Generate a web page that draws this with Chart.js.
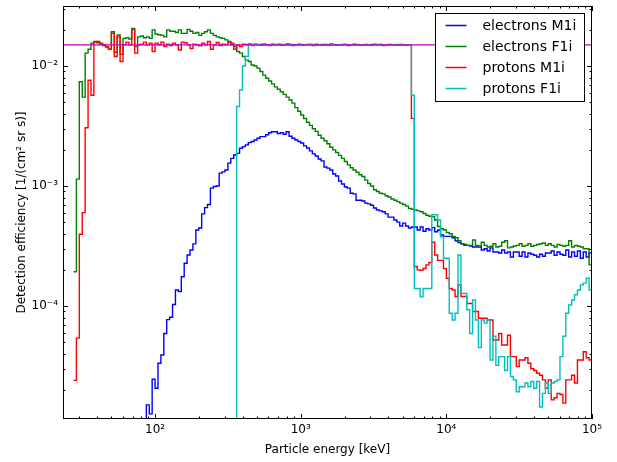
<!DOCTYPE html>
<html>
<head>
<meta charset="utf-8">
<script src="https://cdn.jsdelivr.net/npm/chart.js@4.4.1/dist/chart.umd.min.js"></script>
<style>
  html, body { margin: 0; padding: 0; background: #fff; }
  canvas { display: block; }
</style>
</head>
<body>
<canvas id="efficiencyChart" width="617" height="462"></canvas>
<script>
// energy bins: log spaced, 50 per decade, first bin starts at 10^(72/50) keV
var binsPerDecade = 50;
var firstBin = 72;
var binCount = 178;
var binEdges = [];
for (var i = 0; i <= binCount; i++) binEdges.push(Math.pow(10, (firstBin + i) / binsPerDecade));

// detection efficiency per bin, 1/(cm2 sr s); 0 = empty bin
var electronsM1i = [
  0, 0, 0, 0, 0, 0, 0, 0, 0, 0,
  0, 0, 0, 0, 0, 0, 0, 0, 0, 0,
  0, 0, 0, 0, 0, 1.5e-5, 1.26e-5, 2.45e-5, 2.06e-5, 3.33e-5,
  3.9e-5, 5.9e-5, 7.7e-5, 8.05e-5, 1.03e-4, 1.36e-4, 1.32e-4, 1.75e-4, 2.27e-4, 2.66e-4,
  2.93e-4, 3.29e-4, 4.3e-4, 4.47e-4, 5.85e-4, 6.6e-4, 7.0e-4, 9.6e-4, 9.9e-4, 1.0e-3,
  1.28e-3, 1.31e-3, 1.36e-3, 1.55e-3, 1.70e-3, 1.81e-3, 1.87e-3, 2.06e-3, 2.13e-3, 2.2e-3,
  2.3e-3, 2.35e-3, 2.42e-3, 2.5e-3, 2.58e-3, 2.58e-3, 2.67e-3, 2.78e-3, 2.83e-3, 2.83e-3,
  2.74e-3, 2.78e-3, 2.7e-3, 2.83e-3, 2.6e-3, 2.5e-3, 2.42e-3, 2.35e-3, 2.28e-3, 2.16e-3,
  2.07e-3, 1.96e-3, 1.85e-3, 1.78e-3, 1.68e-3, 1.62e-3, 1.44e-3, 1.41e-3, 1.36e-3, 1.26e-3,
  1.21e-3, 1.1e-3, 1.04e-3, 9.8e-4, 9.6e-4, 8.7e-4, 8.6e-4, 7.6e-4, 7.6e-4, 7.5e-4,
  7.2e-4, 7.1e-4, 6.9e-4, 6.55e-4, 6.3e-4, 6.2e-4, 6.1e-4, 5.85e-4, 5.5e-4, 5.5e-4,
  5.2e-4, 5.0e-4, 4.64e-4, 4.9e-4, 4.64e-4, 4.47e-4, 4.55e-4, 4.55e-4, 4.3e-4, 4.55e-4,
  4.2e-4, 4.4e-4, 4.3e-4, 4.5e-4, 4.15e-4, 4.3e-4, 3.9e-4, 3.8e-4, 3.8e-4, 3.8e-4,
  3.7e-4, 3.5e-4, 3.37e-4, 3.3e-4, 3.2e-4, 3.2e-4, 3.16e-4, 3.1e-4, 3.1e-4, 3.1e-4,
  2.93e-4, 3.0e-4, 2.87e-4, 3.05e-4, 2.82e-4, 2.82e-4, 2.76e-4, 2.93e-4, 2.76e-4, 2.82e-4,
  2.56e-4, 2.82e-4, 2.82e-4, 2.6e-4, 2.82e-4, 2.56e-4, 2.76e-4, 2.7e-4, 2.65e-4, 2.56e-4,
  2.7e-4, 2.6e-4, 2.76e-4, 2.76e-4, 2.87e-4, 2.65e-4, 2.82e-4, 2.7e-4, 2.65e-4, 2.93e-4,
  2.56e-4, 2.82e-4, 2.6e-4, 2.87e-4, 2.5e-4, 2.82e-4, 2.56e-4, 2.76e-4
];
var electronsF1i = [
  1.93e-4, 1.14e-3, 7.4e-3, 5.5e-3, 1.28e-2, 1.38e-2, 1.55e-2, 1.6e-2, 1.56e-2, 1.52e-2,
  1.48e-2, 1.44e-2, 1.38e-2, 1.93e-2, 1.3e-2, 1.81e-2, 1.25e-2, 1.7e-2, 1.72e-2, 1.68e-2,
  2.06e-2, 1.45e-2, 1.75e-2, 1.78e-2, 1.72e-2, 1.75e-2, 1.7e-2, 2.0e-2, 1.85e-2, 1.82e-2,
  1.8e-2, 1.75e-2, 2.0e-2, 1.95e-2, 1.95e-2, 1.9e-2, 2.0e-2, 1.87e-2, 1.87e-2, 2.02e-2,
  1.95e-2, 1.87e-2, 1.9e-2, 1.8e-2, 1.87e-2, 1.93e-2, 2.0e-2, 1.87e-2, 1.8e-2, 1.75e-2,
  1.72e-2, 1.7e-2, 1.65e-2, 1.6e-2, 1.5e-2, 1.45e-2, 1.32e-2, 1.28e-2, 1.2e-2, 1.12e-2,
  1.09e-2, 1.02e-2, 1.0e-2, 9.6e-3, 9.0e-3, 8.4e-3, 7.9e-3, 7.5e-3, 7.1e-3, 6.7e-3,
  6.4e-3, 6.1e-3, 5.8e-3, 5.5e-3, 5.2e-3, 4.9e-3, 4.5e-3, 4.2e-3, 3.9e-3, 3.65e-3,
  3.4e-3, 3.2e-3, 3.0e-3, 2.85e-3, 2.65e-3, 2.5e-3, 2.38e-3, 2.25e-3, 2.1e-3, 2.0e-3,
  1.9e-3, 1.8e-3, 1.7e-3, 1.6e-3, 1.5e-3, 1.42e-3, 1.36e-3, 1.3e-3, 1.24e-3, 1.2e-3,
  1.12e-3, 1.05e-3, 1.0e-3, 9.3e-4, 9.0e-4, 8.7e-4, 8.6e-4, 8.3e-4, 8.1e-4, 7.8e-4,
  7.6e-4, 7.4e-4, 7.2e-4, 7.0e-4, 6.8e-4, 6.5e-4, 6.4e-4, 6.3e-4, 6.2e-4, 6.1e-4,
  5.9e-4, 5.7e-4, 5.6e-4, 5.55e-4, 5.2e-4, 4.6e-4, 4.4e-4, 4.3e-4, 4.1e-4, 4.0e-4,
  3.8e-4, 3.7e-4, 3.5e-4, 3.3e-4, 3.25e-4, 3.2e-4, 3.2e-4, 3.55e-4, 3.2e-4, 3.16e-4,
  3.4e-4, 3.2e-4, 3.1e-4, 3.15e-4, 3.3e-4, 3.1e-4, 3.15e-4, 3.4e-4, 3.5e-4, 3.05e-4,
  3.1e-4, 3.16e-4, 3.2e-4, 3.3e-4, 3.15e-4, 3.2e-4, 3.3e-4, 3.15e-4, 3.2e-4, 3.25e-4,
  3.3e-4, 3.35e-4, 3.2e-4, 3.3e-4, 3.2e-4, 3.1e-4, 3.25e-4, 3.2e-4, 3.15e-4, 3.2e-4,
  3.5e-4, 3.1e-4, 3.2e-4, 3.15e-4, 3.1e-4, 3.0e-4, 3.0e-4, 2.2e-4
];
var protonsM1i = [
  2.4e-5, 5.4e-5, 3.96e-4, 6.0e-4, 3.06e-3, 7.6e-3, 5.7e-3, 1.58e-2, 1.6e-2, 1.55e-2,
  1.5e-2, 1.45e-2, 1.38e-2, 1.87e-2, 1.2e-2, 1.75e-2, 1.09e-2, 1.5e-2, 1.58e-2, 1.5e-2,
  2.0e-2, 1.28e-2, 1.5e-2, 1.52e-2, 1.58e-2, 1.5e-2, 1.55e-2, 1.32e-2, 1.55e-2, 1.5e-2,
  1.58e-2, 1.45e-2, 1.52e-2, 1.48e-2, 1.55e-2, 1.5e-2, 1.36e-2, 1.58e-2, 1.56e-2, 1.5e-2,
  1.4e-2, 1.52e-2, 1.5e-2, 1.47e-2, 1.55e-2, 1.5e-2, 1.6e-2, 1.38e-2, 1.5e-2, 1.57e-2,
  1.48e-2, 1.52e-2, 1.5e-2, 1.58e-2, 1.55e-2, 1.38e-2, 1.5e-2, 1.45e-2, 1.52e-2, 1.5e-2,
  1.53e-2, 1.48e-2, 1.52e-2, 1.5e-2, 1.49e-2, 1.53e-2, 1.5e-2, 1.48e-2, 1.51e-2, 1.5e-2,
  1.52e-2, 1.49e-2, 1.5e-2, 1.53e-2, 1.5e-2, 1.48e-2, 1.5e-2, 1.52e-2, 1.49e-2, 1.5e-2,
  1.51e-2, 1.5e-2, 1.48e-2, 1.52e-2, 1.5e-2, 1.49e-2, 1.51e-2, 1.5e-2, 1.53e-2, 1.5e-2,
  1.49e-2, 1.5e-2, 1.51e-2, 1.5e-2, 1.48e-2, 1.5e-2, 1.52e-2, 1.5e-2, 1.49e-2, 1.5e-2,
  1.51e-2, 1.5e-2, 1.49e-2, 1.52e-2, 1.5e-2, 1.5e-2, 1.48e-2, 1.5e-2, 1.51e-2, 1.5e-2,
  1.5e-2, 1.49e-2, 1.51e-2, 1.5e-2, 1.49e-2, 1.5e-2, 3.66e-3, 2.13e-4, 2.0e-4, 1.98e-4,
  2.05e-4, 2.2e-4, 2.3e-4, 3.4e-4, 2.66e-4, 2.4e-4, 2.4e-4, 2.05e-4, 1.7e-4, 1.4e-4,
  1.36e-4, 1.2e-4, 1.5e-4, 1.2e-4, 1.2e-4, 1.05e-4, 1.05e-4, 9.0e-5, 9.0e-5, 7.9e-5,
  7.9e-5, 7.9e-5, 7.65e-5, 7.65e-5, 5.2e-5, 5.2e-5, 5.9e-5, 4.73e-5, 4.73e-5, 5.7e-5,
  3.78e-5, 3.78e-5, 3.12e-5, 3.55e-5, 3.55e-5, 3.7e-5, 3.33e-5, 3.0e-5, 2.9e-5, 2.75e-5,
  2.65e-5, 2.42e-5, 2.06e-5, 2.42e-5, 1.65e-5, 1.72e-5, 1.87e-5, 1.83e-5, 1.55e-5, 2.42e-5,
  2.42e-5, 2.65e-5, 2.28e-5, 3.55e-5, 3.55e-5, 4.16e-5, 3.7e-5, 3.55e-5
];
var protonsF1i = [
  0, 0, 0, 0, 0, 0, 0, 0, 0, 0,
  0, 0, 0, 0, 0, 0, 0, 0, 0, 0,
  0, 0, 0, 0, 0, 0, 0, 0, 0, 0,
  0, 0, 0, 0, 0, 0, 0, 0, 0, 0,
  0, 0, 0, 0, 0, 0, 0, 0, 0, 0,
  0, 0, 0, 0, 0, 0, 4.6e-3, 6.3e-3, 1.0e-2, 1.2e-2,
  1.5e-2, 1.49e-2, 1.51e-2, 1.5e-2, 1.52e-2, 1.5e-2, 1.49e-2, 1.5e-2, 1.53e-2, 1.5e-2,
  1.5e-2, 1.51e-2, 1.49e-2, 1.5e-2, 1.52e-2, 1.5e-2, 1.5e-2, 1.49e-2, 1.51e-2, 1.5e-2,
  1.5e-2, 1.52e-2, 1.5e-2, 1.49e-2, 1.5e-2, 1.51e-2, 1.5e-2, 1.48e-2, 1.5e-2, 1.51e-2,
  1.5e-2, 1.49e-2, 1.5e-2, 1.52e-2, 1.5e-2, 1.5e-2, 1.49e-2, 1.51e-2, 1.5e-2, 1.5e-2,
  1.49e-2, 1.5e-2, 1.51e-2, 1.5e-2, 1.5e-2, 1.52e-2, 1.5e-2, 1.49e-2, 1.5e-2, 1.5e-2,
  1.51e-2, 1.5e-2, 1.49e-2, 1.5e-2, 1.5e-2, 1.49e-2, 5.7e-3, 1.4e-4, 1.4e-4, 1.19e-4,
  1.4e-4, 1.4e-4, 1.4e-4, 5.75e-4, 5.75e-4, 5.2e-4, 3.77e-4, 2.5e-4, 2.5e-4, 8.7e-5,
  7.65e-5, 8.7e-5, 2.66e-4, 1.27e-4, 1.27e-4, 9.3e-5, 5.9e-5, 1.12e-4, 7.65e-5, 4.5e-5,
  7.65e-5, 7.2e-5, 7.65e-5, 3.55e-5, 5.6e-5, 3.2e-5, 3.78e-5, 3.78e-5, 2.9e-5, 3.78e-5,
  2.58e-5, 2.42e-5, 1.93e-5, 2.12e-5, 2.12e-5, 2.28e-5, 2.12e-5, 2.35e-5, 2.06e-5, 2.35e-5,
  1.44e-5, 1.87e-5, 2.28e-5, 1.87e-5, 2.28e-5, 2.35e-5, 2.42e-5, 3.78e-5, 5.6e-5, 8.7e-5,
  1.02e-4, 1.12e-4, 1.24e-4, 1.36e-4, 1.5e-4, 1.55e-4, 1.7e-4, 1.36e-4
];
var referenceLevel = 0.015;

var xTickValues = [1e2, 1e3, 1e4, 1e5];
var xTickLabels = ['10²', '10³', '10⁴', '10⁵'];
var yTickValues = [1e-4, 1e-3, 1e-2];
var yTickLabels = ['10⁻⁴', '10⁻³', '10⁻²'];

var xMin = 23.33, xMax = 1e5;
var yMin = 1.143e-5, yMax = 0.03162;
var fontFamily = 'DejaVu Sans';

// an empty bin is log(0): send it below the axis so the step drops out of view
function histogramPoints(values) {
  var floor = 1e-8;
  var pts = values.map(function (v, i) {
    return { x: binEdges[i], y: v > 0 ? v : floor };
  });
  pts.push({ x: binEdges[values.length], y: pts[pts.length - 1].y });
  return pts;
}

function histDataset(label, values, color, order) {
  return {
    label: label,
    data: histogramPoints(values),
    borderColor: color,
    backgroundColor: color,
    borderWidth: 1.4,
    stepped: 'before',   // value i spans edge i .. edge i+1
    pointRadius: 0,
    fill: false,
    order: order
  };
}

function logTicks(min, max) {
  var out = [];
  for (var d = Math.floor(Math.log10(min)); d <= Math.ceil(Math.log10(max)); d++) {
    for (var m = 1; m <= 9; m++) {
      var v = m * Math.pow(10, d);
      if (v >= min * 0.999 && v <= max * 1.001) out.push({ v: v, major: m === 1 });
    }
  }
  return out;
}

// matplotlib-like frame: inward ticks on all sides and a boxed legend
var frameAndLegend = {
  id: 'frameAndLegend',
  afterDatasetsDraw: function (chart) {
    var ctx = chart.ctx, a = chart.chartArea;
    var xs = chart.scales.x, ys = chart.scales.y;
    ctx.save();
    ctx.strokeStyle = '#000';
    ctx.lineWidth = 1;
    ctx.beginPath();
    logTicks(xMin, xMax).forEach(function (t) {
      var px = Math.round(xs.getPixelForValue(t.v)) + 0.5;
      var len = t.major ? 5 : 2.5;
      ctx.moveTo(px, a.bottom); ctx.lineTo(px, a.bottom - len);
      ctx.moveTo(px, a.top); ctx.lineTo(px, a.top + len);
    });
    logTicks(yMin, yMax).forEach(function (t) {
      var py = Math.round(ys.getPixelForValue(t.v)) + 0.5;
      var len = t.major ? 5 : 2.5;
      ctx.moveTo(a.left, py); ctx.lineTo(a.left + len, py);
      ctx.moveTo(a.right, py); ctx.lineTo(a.right - len, py);
    });
    ctx.stroke();
    ctx.strokeRect(Math.round(a.left) + 0.5, Math.round(a.top) + 0.5,
      Math.round(a.right - a.left) - 1, Math.round(a.bottom - a.top) - 1);

    // legend
    var bw = 149, bh = 88;
    var bx = Math.round(a.right - 8 - bw) + 0.5, by = Math.round(a.top + 7) + 0.5;
    ctx.fillStyle = '#fff';
    ctx.fillRect(bx, by, bw, bh);
    ctx.strokeRect(bx, by, bw, bh);
    ctx.font = '14px "' + fontFamily + '"';
    ctx.textBaseline = 'middle';
    ctx.textAlign = 'left';
    var entries = chart.data.datasets.filter(function (ds) { return ds.label !== 'reference'; });
    entries.forEach(function (ds, i) {
      var ry = by + 12 + i * 21;
      ctx.strokeStyle = ds.borderColor;
      ctx.lineWidth = 1.5;
      ctx.beginPath();
      ctx.moveTo(bx + 10, ry); ctx.lineTo(bx + 31, ry);
      ctx.stroke();
      ctx.fillStyle = '#000';
      ctx.fillText(ds.label, bx + 47, ry + 1);
    });
    ctx.restore();
  }
};

var ctx1 = document.getElementById('efficiencyChart');
var efficiencyChart = new Chart(ctx1, {
  type: 'line',
  data: {
    datasets: [
      {
        label: 'reference',
        data: [{ x: xMin, y: referenceLevel }, { x: xMax, y: referenceLevel }],
        borderColor: '#bf00bf',
        borderWidth: 1.2,
        pointRadius: 0,
        fill: false,
        order: 0
      },
      histDataset('electrons M1i', electronsM1i, '#0000ff', 4),
      histDataset('electrons F1i', electronsF1i, '#008000', 3),
      histDataset('protons M1i', protonsM1i, '#ff0000', 2),
      histDataset('protons F1i', protonsF1i, '#00bfbf', 1)
    ]
  },
  options: {
    responsive: false,
    animation: false,
    devicePixelRatio: 1,
    layout: { padding: { left: 0, right: 25, top: 6, bottom: 0 } },
    plugins: { legend: { display: false }, tooltip: { enabled: false } },
    scales: {
      x: {
        type: 'logarithmic',
        position: 'bottom',
        min: xMin,
        max: xMax,
        bounds: 'data',
        grid: { display: false, drawTicks: false },
        border: { display: false },
        afterBuildTicks: function (scale) {
          scale.ticks = xTickValues.map(function (v) { return { value: v }; });
        },
        afterFit: function (scale) {
          scale.height = 43;
          scale.paddingLeft = 0;
          scale.paddingRight = 0;
        },
        ticks: {
          autoSkip: false,
          maxRotation: 0,
          padding: 4,
          color: '#000',
          font: { family: fontFamily, size: 12 },
          callback: function (value) {
            var i = xTickValues.indexOf(value);
            return i >= 0 ? xTickLabels[i] : '';
          }
        },
        title: {
          display: true,
          text: 'Particle energy [keV]',
          color: '#000',
          font: { family: fontFamily, size: 12 },
          padding: { top: 0, bottom: 5 }
        }
      },
      y: {
        type: 'logarithmic',
        position: 'left',
        min: yMin,
        max: yMax,
        bounds: 'data',
        grid: { display: false, drawTicks: false },
        border: { display: false },
        afterBuildTicks: function (scale) {
          scale.ticks = yTickValues.map(function (v) { return { value: v }; });
        },
        afterFit: function (scale) {
          scale.width = 63;
          scale.paddingTop = 0;
          scale.paddingBottom = 0;
        },
        ticks: {
          autoSkip: false,
          padding: 5,
          color: '#000',
          font: { family: fontFamily, size: 12 },
          callback: function (value) {
            var i = yTickValues.indexOf(value);
            return i >= 0 ? yTickLabels[i] : '';
          }
        },
        title: {
          display: true,
          text: 'Detection efficiency [1/(cm² sr s)]',
          color: '#000',
          font: { family: fontFamily, size: 12 },
          padding: { top: 15, bottom: 0 }
        }
      }
    }
  },
  plugins: [frameAndLegend]
});
</script>
</body>
</html>
